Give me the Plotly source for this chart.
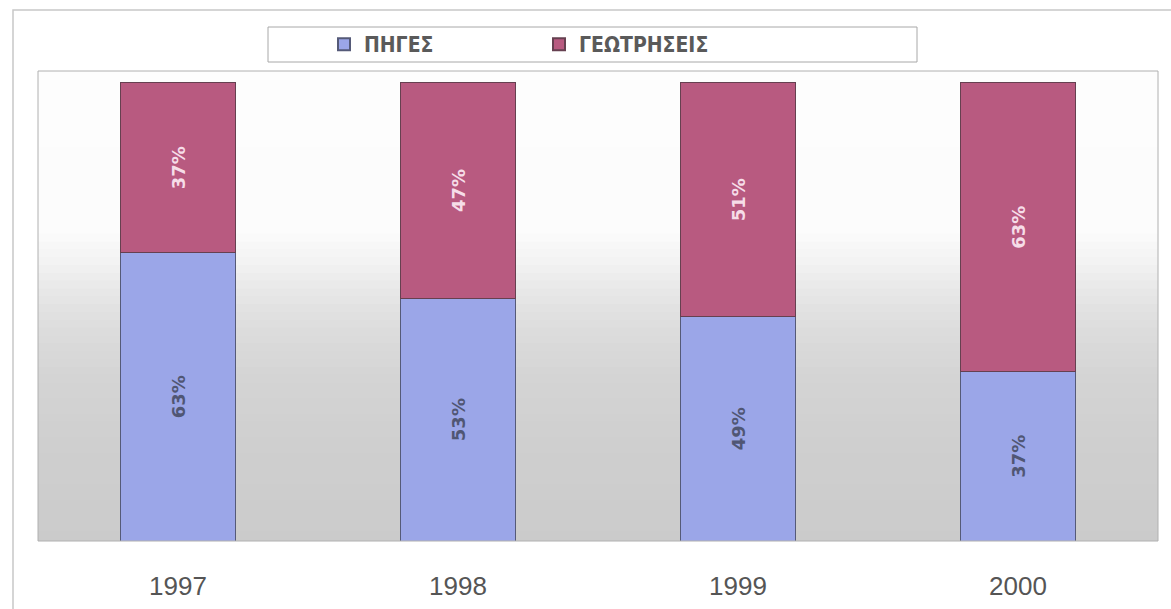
import plotly.graph_objects as go

years = ["1997", "1998", "1999", "2000"]
piges = [0.63, 0.53, 0.49, 0.37]
geotriseis = [0.37, 0.47, 0.51, 0.63]
pig_labels = ["63%", "53%", "49%", "37%"]
geo_labels = ["37%", "47%", "51%", "63%"]
series_names = ["ΠΗΓΕΣ", "ΓΕΩΤΡΗΣΕΙΣ"]

W, H = 1171, 609
L, R, T, B = 38, 13, 71, 68

fig = go.Figure()
fig.add_trace(go.Bar(
    x=years, y=piges, name=series_names[0],
    marker=dict(color="#9ba6e8", line=dict(color="#555a78", width=1)),
    text=pig_labels, textposition="inside", insidetextanchor="middle",
    textangle=-90,
    textfont=dict(family="DejaVu Sans", size=18, color="#505674", weight="bold"),
    width=0.41,
))
fig.add_trace(go.Bar(
    x=years, y=geotriseis, name=series_names[1],
    marker=dict(color="#b85a80", line=dict(color="#664050", width=1)),
    text=geo_labels, textposition="inside", insidetextanchor="middle",
    textangle=-90,
    textfont=dict(family="DejaVu Sans", size=18, color="#f6dde8", weight="bold"),
    width=0.41,
))

# background gradient (white top -> gray bottom) within plot area
shapes = []
stops = [(1.0, 253), (0.66, 252), (0.60, 244), (0.52, 230), (0.44, 220), (0.34, 212), (0.2, 207), (0.0, 203)]
N = 60
for i in range(N):
    y1 = 1 - i / N
    y0 = 1 - (i + 1) / N
    ym = (y0 + y1) / 2
    g = 203
    for (ya, ga), (yb, gb) in zip(stops[:-1], stops[1:]):
        if yb <= ym <= ya:
            t = (ya - ym) / (ya - yb)
            g = int(round(ga + (gb - ga) * t))
            break
    shapes.append(dict(type="rect", xref="paper", yref="paper", x0=0, x1=1,
                       y0=max(0, y0 - 0.004), y1=min(1, y1 + 0.004),
                       fillcolor=f"rgb({g},{g},{g})", line=dict(width=0), layer="below"))
# plot area border
shapes.append(dict(type="rect", xref="paper", yref="paper", x0=0, x1=1, y0=0, y1=1,
                   line=dict(color="#b0b0b0", width=1), fillcolor="rgba(0,0,0,0)", layer="above"))
# outer chart border
shapes.append(dict(type="rect", xref="paper", yref="paper",
                   x0=(13 - L) / (W - L - R), x1=(1175 - L) / (W - L - R),
                   y0=(H - B - 615) / (H - T - B), y1=(H - B - 10) / (H - T - B),
                   line=dict(color="#c8c8c8", width=1.5), fillcolor="rgba(0,0,0,0)", layer="below"))
# legend box
shapes.append(dict(type="rect", xref="paper", yref="paper",
                   x0=(268 - L) / (W - L - R), x1=(917 - L) / (W - L - R),
                   y0=(H - B - 62) / (H - T - B), y1=(H - B - 27) / (H - T - B),
                   line=dict(color="#a8a8a8", width=1), fillcolor="white", layer="below"))

fig.update_layout(
    width=W, height=H,
    margin=dict(l=L, r=R, t=T, b=B, autoexpand=False),
    barmode="stack",
    paper_bgcolor="white",
    plot_bgcolor="rgba(0,0,0,0)",
    shapes=shapes,
    showlegend=True,
    legend=dict(
        orientation="h", x=(324 - L) / (W - L - R), xanchor="left",
        y=(H - B - 44.5) / (H - T - B), yanchor="middle",
        bgcolor="rgba(0,0,0,0)", borderwidth=0,
        entrywidth=170, entrywidthmode="pixels",
        font=dict(family="Liberation Sans Narrow, DejaVu Sans Condensed", size=21, color="#5a5a5a", weight="bold"),
        itemsizing="constant", traceorder="normal",
    ),
    xaxis=dict(
        showgrid=False, zeroline=False, showline=False, automargin=False,
        ticks="", tickfont=dict(family="Liberation Sans", size=26, color="#555555"),
        ticklabelstandoff=27,
    ),
    yaxis=dict(
        range=[0, 1.026], showgrid=False, zeroline=False, showline=False,
        showticklabels=False, ticks="", automargin=False,
    ),
)

fig.write_html("out.html")
